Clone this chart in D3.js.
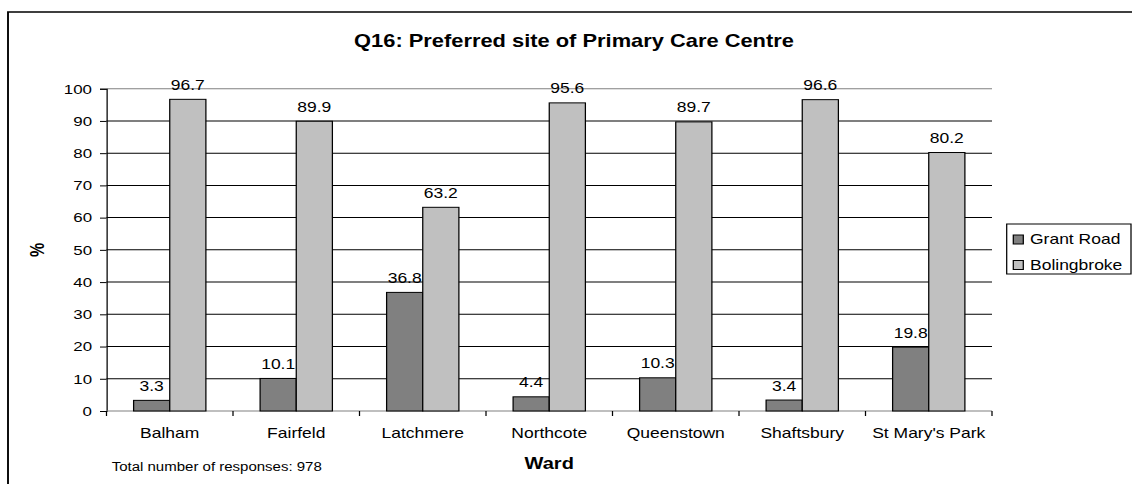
<!DOCTYPE html>
<html>
<head>
<meta charset="utf-8">
<script src="https://cdn.jsdelivr.net/npm/d3@7"></script>
<style>
  html, body { margin: 0; padding: 0; background: #fff; }
  svg { display: block; font-family: Arial, "Liberation Sans", sans-serif; }
</style>
</head>
<body>
<div id="chart"></div>
<script>
// --- Data ---
const wards = ["Balham", "Fairfeld", "Latchmere", "Northcote", "Queenstown", "Shaftsbury", "St Mary's Park"];
const grantRoad = [3.3, 10.1, 36.8, 4.4, 10.3, 3.4, 19.8];
const bolingbroke = [96.7, 89.9, 63.2, 95.6, 89.7, 96.6, 80.2];
const seriesNames = ["Grant Road", "Bolingbroke"];
const seriesColors = ["#808080", "#c0c0c0"];
const yTicks = [0, 10, 20, 30, 40, 50, 60, 70, 80, 90, 100];

const W = 1132, H = 484;
// the original picture is stretched sideways, so draw narrow and stretch the svg
const K = 1.25;
const VW = W / K;
const vx = p => p / K;

const svg = d3.select("#chart").append("svg")
    .attr("width", W)
    .attr("height", H)
    .attr("viewBox", [0, 0, VW, H])
    .attr("preserveAspectRatio", "none");

// outer chart border (right and bottom run off the picture)
svg.append("rect")
    .attr("x", vx(8)).attr("y", 12)
    .attr("width", VW).attr("height", H)
    .attr("fill", "none")
    .attr("stroke", "#000")
    .attr("stroke-width", 1.5);

const plot = { left: vx(106.5), right: vx(992), top: 88.7, bottom: 411 };

const x = d3.scaleBand()
    .domain(wards)
    .range([plot.left, plot.right]);

const groupW = x.bandwidth() / 1.75; // Excel gap width 75%
const xs = d3.scaleBand()
    .domain(seriesNames)
    .range([0, groupW]);

const y = d3.scaleLinear()
    .domain([0, 100])
    .range([plot.bottom, plot.top]);

// Gridlines
svg.append("g")
    .selectAll("line")
    .data(yTicks.filter(d => d > 0))
    .join("line")
    .attr("x1", plot.left).attr("x2", plot.right)
    .attr("y1", d => y(d)).attr("y2", d => y(d))
    .attr("stroke", d => d === 100 ? "#808080" : "#000")
    .attr("stroke-width", 1);

// Y axis
const yAxis = svg.append("g")
    .attr("transform", `translate(${plot.left},0)`)
    .call(d3.axisLeft(y).tickValues(yTicks).tickSize(vx(6.5)).tickPadding(vx(8)));
yAxis.select(".domain").attr("stroke", "#000");
yAxis.selectAll(".tick line").attr("stroke", "#000");
yAxis.selectAll("text")
    .attr("font-size", 13.5)
    .attr("fill", "#000")
    .attr("font-family", null);

// X axis
const xAxis = svg.append("g")
    .attr("transform", `translate(0,${plot.bottom})`);
xAxis.append("line")
    .attr("x1", plot.left).attr("x2", plot.right)
    .attr("stroke", "#808080");
xAxis.selectAll(".cat-tick")
    .data(wards.concat([null]))
    .join("line")
    .attr("class", "cat-tick")
    .attr("x1", (d, i) => i < wards.length ? x(d) : plot.right)
    .attr("x2", (d, i) => i < wards.length ? x(d) : plot.right)
    .attr("y1", 0).attr("y2", 5)
    .attr("stroke", "#000");
xAxis.selectAll(".cat-label")
    .data(wards)
    .join("text")
    .attr("class", "cat-label")
    .attr("x", d => x(d) + x.bandwidth() / 2)
    .attr("y", 27)
    .attr("text-anchor", "middle")
    .attr("font-size", 14)
    .text(d => d);

// Bars
const rows = wards.map((w, i) => ({ ward: w, values: [grantRoad[i], bolingbroke[i]] }));
const fmt = d3.format(".1f");

const groups = svg.append("g")
    .selectAll("g")
    .data(rows)
    .join("g")
    .attr("transform", d => `translate(${x(d.ward) + (x.bandwidth() - groupW) / 2},0)`);

groups.selectAll("rect")
    .data(d => d.values.map((v, j) => ({ v, s: seriesNames[j], c: seriesColors[j] })))
    .join("rect")
    .attr("x", d => xs(d.s))
    .attr("width", xs.bandwidth())
    .attr("y", d => y(d.v))
    .attr("height", d => y(0) - y(d.v))
    .attr("fill", d => d.c)
    .attr("stroke", "#000")
    .attr("stroke-width", 1);

groups.selectAll("text")
    .data(d => d.values.map((v, j) => ({ v, s: seriesNames[j] })))
    .join("text")
    .attr("x", d => xs(d.s) + xs.bandwidth() / 2)
    .attr("y", d => y(d.v) - 9.5)
    .attr("text-anchor", "middle")
    .attr("font-size", 14)
    .text(d => fmt(d.v));

// Titles
svg.append("text")
    .attr("x", vx(574)).attr("y", 47)
    .attr("text-anchor", "middle")
    .attr("font-size", 17.5)
    .attr("font-weight", "bold")
    .text("Q16: Preferred site of Primary Care Centre");

svg.append("text")
    .attr("x", (plot.left + plot.right) / 2).attr("y", 469)
    .attr("text-anchor", "middle")
    .attr("font-size", 16)
    .attr("font-weight", "bold")
    .text("Ward");

svg.append("text")
    .attr("transform", `translate(${vx(44)},${(plot.top + plot.bottom) / 2}) rotate(-90)`)
    .attr("text-anchor", "middle")
    .attr("font-size", 16)
    .attr("font-weight", "bold")
    .text("%");

svg.append("text")
    .attr("x", vx(111.7)).attr("y", 471.5)
    .attr("font-size", 12)
    .text("Total number of responses: 978");

// Legend
const legend = svg.append("g");
legend.append("rect")
    .attr("x", vx(1006.7)).attr("y", 224)
    .attr("width", vx(1131) - vx(1006.7)).attr("height", 50)
    .attr("fill", "#fff")
    .attr("stroke", "#000")
    .attr("stroke-width", 1);

const items = legend.selectAll(".item")
    .data(seriesNames)
    .join("g")
    .attr("class", "item")
    .attr("transform", (d, i) => `translate(0,${244 + i * 25.5})`);
items.append("rect")
    .attr("x", vx(1013.3)).attr("y", -9)
    .attr("width", vx(10)).attr("height", 9)
    .attr("fill", (d, i) => seriesColors[i])
    .attr("stroke", "#000")
    .attr("stroke-width", 1);
items.append("text")
    .attr("x", vx(1030))
    .attr("y", 0)
    .attr("font-size", 14)
    .text(d => d);
</script>
</body>
</html>
